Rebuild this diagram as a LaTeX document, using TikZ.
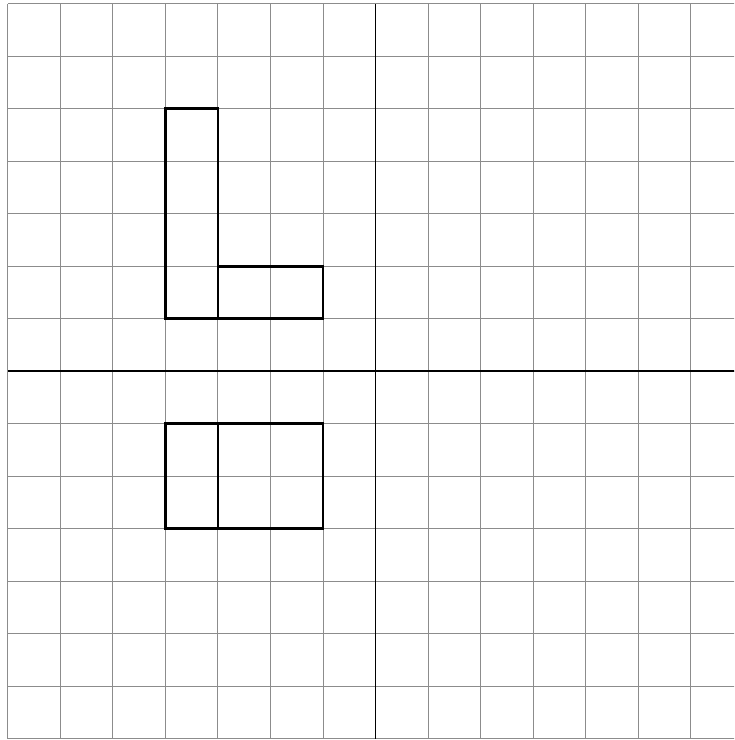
\documentclass[tikz,border=0pt]{standalone}
\usepackage{amsmath, tikz}
\usetikzlibrary{positioning}

\begin{document}
\begin{tikzpicture}[gridline/.style={gray!90,line width=0.5pt},
						axis/.style={black,line width=1pt},
						piece/.style={black,line width=1.5pt}]

		\useasboundingbox (-7.15,-7.02) rectangle (6.83,7.07);
		\clip (-7.15,-7.02) rectangle (6.83,7.07);

		\draw[gridline] (-7,-7) grid (7,7);

		\draw[axis] (-7,0) -- (7,0);
		\draw[axis] (0,-7) -- (0,7);

		% the L
		\draw[piece] (-4,1) rectangle (-3,5);
		\draw[piece] (-3,1) rectangle (-1,2);

		% the two boxes below
		\draw[piece] (-4,-3) rectangle (-3,-1);
		\draw[piece] (-3,-3) rectangle (-1,-1);
	\end{tikzpicture}
\end{document}
